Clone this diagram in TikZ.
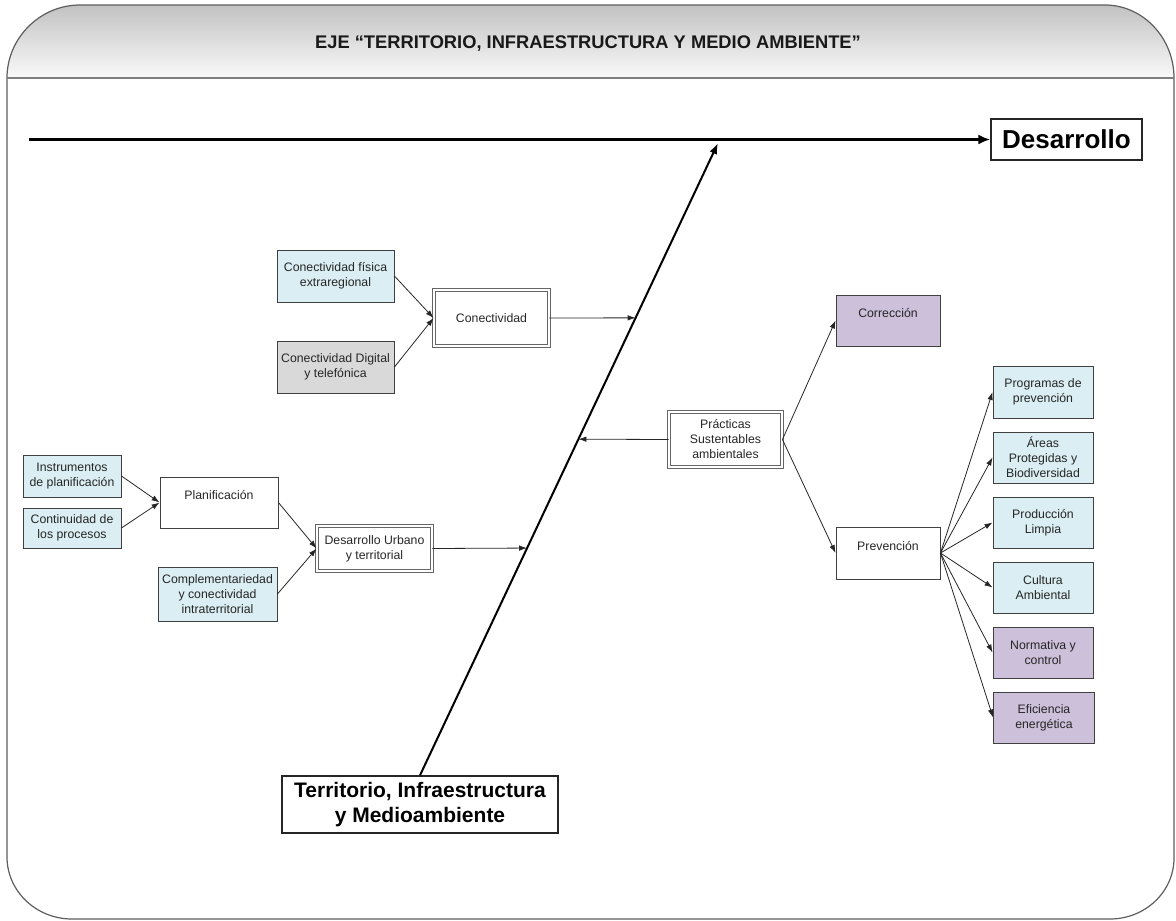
\documentclass[tikz,border=0pt]{standalone}
\usepackage{fontspec}
\setmainfont{Liberation Sans}
\usetikzlibrary{arrows.meta,calc}
\definecolor{lblue}{HTML}{DAEEF3}
\definecolor{lpurple}{HTML}{CCC0DA}
\definecolor{lgray}{HTML}{D9D9D9}
\definecolor{framec}{HTML}{5E5E5E}
\begin{document}
\begin{tikzpicture}[x=1pt,y=-1pt,
  box/.style={draw=black!75, line width=0.9pt, align=center, inner sep=1pt,
    font=\fontsize{12.3}{15}\selectfont, text=black!85},
  dbox/.style={box, draw=black!60, line width=0.9pt, double=white, double distance=1.6pt},
  uptext/.style={text height=8.5pt, text depth=14pt},
  sz/.style 2 args={minimum width=#1, minimum height=#2},
  link/.style={black!85, line width=0.8pt, -{Latex[length=8pt,width=5.5pt]}},
  spine/.style={black, line width=2pt, -{Latex[length=11pt,width=8pt]}},
  axis/.style={black, line width=3pt, -{Latex[length=12pt,width=10pt]}},
  bigbox/.style={draw=black!85, line width=1.4pt, align=center, inner sep=1pt,
    font=\bfseries\fontsize{21}{25.5}\selectfont}
]
\useasboundingbox (0,0) rectangle (1176,921);

% header band with gradient
\shade[top color=black!24, bottom color=black!2]
  (7,78) .. controls (7,38) and (40,5) .. (80,5) -- (1105,5)
  .. controls (1143,5) and (1174,38) .. (1174,78) -- cycle;
% outer frame
\draw[framec, line width=1.2pt]
  (7,78) -- (7,857) .. controls (7,891) and (36,919) .. (72,919)
  -- (1110,919) .. controls (1145,919) and (1174,892) .. (1174,858)
  -- (1174,78) .. controls (1174,38) and (1143,5) .. (1105,5)
  -- (80,5) .. controls (40,5) and (7,38) .. (7,78) -- cycle;
\draw[black!50, line width=1.8pt] (7,78) -- (1174,78);

\node[text=black!90] (title) at (588,44) {\bfseries\fontsize{18.3}{21}\selectfont EJE “TERRITORIO, INFRAESTRUCTURA Y MEDIO AMBIENTE”};

% main axis
\node[bigbox, font=\bfseries\fontsize{26}{30}\selectfont, sz={151}{41}] (des) at (1066.5,139.5) {Desarrollo};
\coordinate (start) at (29,139.5);
\draw[axis] (start) -- (des.west);

% spine
\node[bigbox, sz={276}{57}] (tim) at (420,804.5) {Territorio, Infraestructura\\y Medioambiente};
\coordinate (hit) at (718,143);
\draw[spine] (tim.north) -- (hit);
\coordinate (pcon) at ($(tim.north)!0.7235!(hit)$);
\coordinate (pdu) at ($(tim.north)!0.3594!(hit)$);
\coordinate (pprac) at ($(tim.north)!0.5316!(hit)$);

% connectivity branch
\node[box, fill=lblue, sz={117}{52}] (fis) at (335.5,276) {Conectividad física\\extraregional};
\node[box, fill=lgray, sz={117}{52}] (dig) at (335.5,367) {Conectividad Digital\\y telefónica};
\node[dbox, sz={115}{56}] (con) at (491.5,318) {Conectividad};
\draw[link] (fis.east) -- (con.west);
\draw[link] (dig.east) -- (con.west);
\draw[link] (con.east) -- (pcon);

% urban development branch
\node[box, fill=lblue, sz={98}{42}] (ins) at (72,476) {Instrumentos\\de planificación};
\node[box, fill=lblue, sz={98}{40}] (cont) at (72,528) {Continuidad de\\los procesos};
\node[box, uptext, sz={118}{51}] (plan) at (219,502.5) {Planificación};
\node[box, fill=lblue, sz={119}{54}] (comp) at (217.5,594) {Complementariedad\\y conectividad\\intraterritorial};
\node[dbox, sz={115}{45}] (du) at (374.5,548.5) {Desarrollo Urbano\\y territorial};
\draw[link] (ins.east) -- (plan.west);
\draw[link] (cont.east) -- (plan.west);
\draw[link] (plan.east) -- (du.west);
\draw[link] (comp.east) -- (du.west);
\draw[link] (du.east) -- (pdu);

% sustainable practices branch
\node[dbox, sz={113}{55}] (prac) at (725.5,439.5) {Prácticas\\Sustentables\\ambientales};
\node[box, uptext, fill=lpurple, sz={104}{51}] (corr) at (888,320.5) {Corrección};
\node[box, uptext, sz={104}{52}] (prev) at (888,553) {Prevención};
\draw[link] (prac.west) -- (pprac);
\draw[link] (prac.east) -- (corr.west);
\draw[link] (prac.east) -- (prev.west);

\node[box, fill=lblue, sz={100}{52}] (prog) at (1043,392) {Programas de\\prevención};
\node[box, fill=lblue, sz={100}{51}] (areas) at (1043,457.5) {Áreas\\Protegidas y\\Biodiversidad};
\node[box, fill=lblue, sz={100}{51}] (prod) at (1043,522.5) {Producción\\Limpia};
\node[box, fill=lblue, sz={100}{51}] (cult) at (1043,587.5) {Cultura\\Ambiental};
\node[box, fill=lpurple, sz={100}{51}] (norm) at (1043,652.5) {Normativa y\\control};
\node[box, fill=lpurple, sz={101}{51}] (efic) at (1044,717.5) {Eficiencia\\energética};
\foreach \t in {prog,areas,prod,cult,norm,efic}
  \draw[link] (prev.east) -- (\t.west);
\end{tikzpicture}
\end{document}
